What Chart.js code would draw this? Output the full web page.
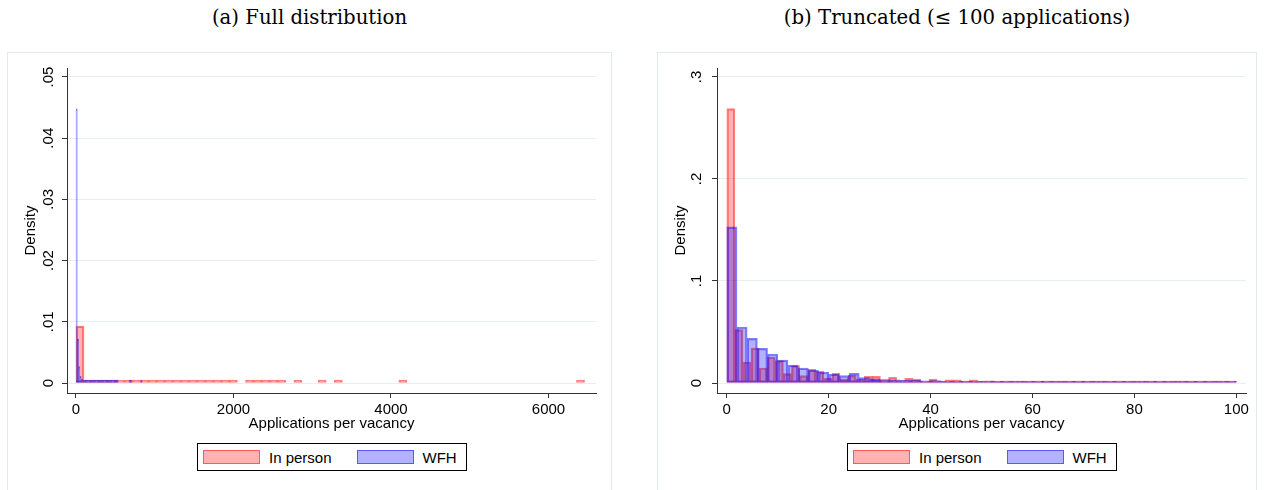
<!DOCTYPE html>
<html>
<head>
<meta charset="utf-8">
<script src="https://cdn.jsdelivr.net/npm/chart.js@4.4.1/dist/chart.umd.min.js"></script>
<style>
  body { margin: 0; width: 1264px; height: 490px; overflow: hidden; background: #fff; position: relative;
         font-family: "Liberation Sans", Arial, sans-serif; color: #000; }
  .titulo { position: absolute; top: 7px; height: 22px; line-height: 22px; text-align: center;
            font-family: "DejaVu Serif", serif; font-size: 19.7px; }
  .panel { position: absolute; top: 52px; height: 460px; border: 1px solid #e3eaec; box-sizing: border-box; }
  canvas { position: absolute; top: 40px; }
  .leyenda { position: absolute; top: 443px; height: 28px; box-sizing: border-box; border: 1px solid #000;
             display: inline-flex; align-items: center; padding: 0 9px 0 5px; font-size: 15px; background: #fff; }
  .muestra { display: inline-block; width: 57px; height: 14px; box-sizing: border-box; border: 1.5px solid; margin-right: 9px; }
  .roja { background: rgba(255, 0, 0, 0.3); border-color: rgba(255, 0, 0, 0.5); }
  .azul { background: rgba(0, 0, 255, 0.3); border-color: rgba(0, 0, 255, 0.5); }
</style>
</head>
<body>
<div class="panel" style="left:7px; width:605px;"></div>
<div class="panel" style="left:657px; width:600px;"></div>
<div class="titulo" style="left:7px; width:605px;">(a) Full distribution</div>
<div class="titulo" style="left:657px; width:600px;">(b) Truncated (≤ 100 applications)</div>

<canvas id="graficoCompleto" width="632" height="450" style="left:0px;"></canvas>
<canvas id="graficoTruncado" width="632" height="450" style="left:632px;"></canvas>

<div class="leyenda" style="left:197px;">
  <span class="muestra roja"></span><span style="margin-right:25px;">In person</span>
  <span class="muestra azul"></span><span>WFH</span>
</div>
<div class="leyenda" style="left:847px;">
  <span class="muestra roja"></span><span style="margin-right:25px;">In person</span>
  <span class="muestra azul"></span><span>WFH</span>
</div>

<script>
// Ancho de los bins de cada histograma (todos empiezan en 0)
const anchoRojoCompleto = 102.5;     // 63 bins
const anchoAzulCompleto = 16.8;      // 50 bins
const anchoRojoTruncado = 100 / 63;  // 63 bins
const anchoAzulTruncado = 2;         // 50 bins

// Densidades, distribución completa (null = bin vacío)
const densRojoCompleto = [
  0.0093, 0.00022, 0.00008, 0.00005, 0.00003, 0.00003, 0.00002, 0.00002, 0.00002, 0.00001,
  0.00001, 0.00001, 0.00001, 0.00001, 0.00001, 0.00001, 0.00001, 0.00001, 0.00001, 0.00001,
  null, 0.000005, 0.000005, 0.000005, 0.000005, 0.000005, null, 0.000005, null, null,
  0.000005, null, 0.000005, null, null, null, null, null, null, null,
  0.000005, null, null, null, null, null, null, null, null, null,
  null, null, null, null, null, null, null, null, null, null,
  null, null, 0.000005
];
const densAzulCompleto = [
  0.0448, 0.0072, 0.0027, 0.0011, 0.0006, 0.0004, 0.0003, 0.0002, 0.00015, 0.0001,
  0.00008, 0.00007, 0.00006, 0.00005, 0.00005, 0.00004, 0.00004, 0.00003, 0.00003, 0.00003,
  0.00002, 0.00002, 0.00002, 0.00002, 0.00002, 0.00001, 0.00001, 0.00001, 0.00001, 0.00001,
  0.00001, 0.00001, null, null, null, null, null, null, null, null,
  0.00001, 0.00001, null, null, null, null, null, null, null, 0.00001
];

// Densidades, truncado a 100 postulaciones
const densRojoTruncado = [
  0.269, 0.0523, 0.0206, 0.0343, 0.0147, 0.0255, 0.0219, 0.0092, 0.017, 0.0072,
  0.0134, 0.0114, 0.0046, 0.0095, 0.0039, 0.0075, 0.0036, 0.0065, 0.0065, 0.003,
  0.0055, 0.0023, 0.0046, 0.0039, 0.0018, 0.0039, 0.0016, 0.003, 0.003, 0.0013,
  0.003, 0.0014, 0.0022, 0.001, 0.002, 0.002, 0.0009, 0.002, 0.0009, 0.0018,
  0.0016, 0.0008, 0.0014, 0.0007, 0.0013, 0.0007, 0.0012, 0.0012, 0.0005, 0.0011,
  0.0009, 0.001, 0.0005, 0.0009, 0.0005, 0.0009, 0.0008, 0.0004, 0.0008, 0.0004,
  0.0008, 0.0004, 0.0007
];
const densAzulTruncado = [
  0.153, 0.0549, 0.0438, 0.034, 0.0284, 0.0225, 0.0176, 0.0146, 0.0125, 0.0105,
  0.0086, 0.0073, 0.0095, 0.0052, 0.004, 0.0034, 0.003, 0.0027, 0.0025, 0.0022,
  0.0024, 0.0018, 0.0016, 0.0015, 0.0014, 0.0019, 0.0012, 0.0011, 0.001, 0.0009,
  0.0011, 0.0008, 0.0007, 0.0007, 0.0006, 0.0008, 0.0006, 0.0005, 0.0005, 0.0005,
  0.0007, 0.0005, 0.0004, 0.0004, 0.0004, 0.0005, 0.0004, 0.0004, 0.0003, 0.0004
];

const ticksXCompleto = [0, 2000, 4000, 6000];
const ticksYCompleto = [0, 0.01, 0.02, 0.03, 0.04, 0.05];
const ticksXTruncado = [0, 20, 40, 60, 80, 100];
const ticksYTruncado = [0, 0.1, 0.2, 0.3];

Chart.defaults.font.family = '"Liberation Sans", Arial, sans-serif';
Chart.defaults.font.size = 15;
Chart.defaults.color = '#000';

// cada bin se dibuja centrado en su punto medio
function aPuntos(densidades, ancho) {
    return densidades.map((d, i) => ({ x: (i + 0.5) * ancho, y: d }));
}

// ".05" en vez de "0.05", como en Stata
function etiquetaY(valor) {
    return valor === 0 ? '0' : String(+valor.toFixed(3)).replace(/^0/, '');
}

function crearHistograma(idCanvas, cfg) {
    const ctx = document.getElementById(idCanvas).getContext('2d');
    return new Chart(ctx, {
        type: 'bar',
        data: {
            datasets: [
                {
                    label: 'WFH',
                    data: aPuntos(cfg.azul, cfg.anchoAzul),
                    xAxisID: 'x2',
                    backgroundColor: 'rgba(0, 0, 255, 0.3)',
                    borderColor: 'rgba(0, 0, 255, 0.5)'
                },
                {
                    label: 'In person',
                    data: aPuntos(cfg.rojo, cfg.anchoRojo),
                    xAxisID: 'x',
                    backgroundColor: 'rgba(255, 0, 0, 0.3)',
                    borderColor: 'rgba(255, 0, 0, 0.5)'
                }
            ]
        },
        options: {
            responsive: false,
            animation: false,
            datasets: {
                bar: {
                    grouped: false,
                    barPercentage: 1,
                    categoryPercentage: 1,
                    borderWidth: 1.5,
                    borderSkipped: false,
                    minBarLength: cfg.minBarra
                }
            },
            layout: { padding: { left: cfg.padIzq, right: cfg.padDer, top: 28, bottom: 0 } },
            plugins: { legend: { display: false }, tooltip: { enabled: false } },
            scales: {
                x: {
                    type: 'linear',
                    offset: false,
                    min: cfg.xMin,
                    max: cfg.xMax,
                    afterBuildTicks: (eje) => { eje.ticks = cfg.ticksX.map(v => ({ value: v })); },
                    afterFit: (eje) => { eje.height = 97; },
                    ticks: { padding: 3, maxRotation: 0, autoSkip: false, callback: (v) => String(v) },
                    grid: { offset: false, drawOnChartArea: false, drawTicks: true, tickLength: 5, tickColor: '#333' },
                    border: { color: '#333', width: 1 },
                    title: { display: true, text: 'Applications per vacancy', padding: { top: 0, bottom: 57 } }
                },
                x2: {
                    type: 'linear',
                    display: false,
                    offset: false,
                    grid: { offset: false },
                    min: cfg.xMin,
                    max: cfg.xMax
                },
                y: {
                    min: cfg.yMin,
                    max: cfg.yMax,
                    afterBuildTicks: (eje) => { eje.ticks = cfg.ticksY.map(v => ({ value: v })); },
                    afterFit: (eje) => { eje.width = 50; },
                    ticks: { minRotation: 90, maxRotation: 90, crossAlign: 'center', padding: cfg.padTicksY, callback: etiquetaY },
                    grid: { color: '#e8eff0', lineWidth: 1, drawTicks: true, tickLength: 5, tickColor: '#333' },
                    border: { color: '#333', width: 1 },
                    title: { display: true, text: 'Density', padding: { top: 5, bottom: 0 } }
                }
            }
        }
    });
}

crearHistograma('graficoCompleto', {
    rojo: densRojoCompleto, anchoRojo: anchoRojoCompleto,
    azul: densAzulCompleto, anchoAzul: anchoAzulCompleto,
    ticksX: ticksXCompleto, ticksY: ticksYCompleto,
    xMin: -114, xMax: 6603, yMin: -0.00163, yMax: 0.05147,
    padIzq: 17, padDer: 36, padTicksY: 3, minBarra: 3
});

crearHistograma('graficoTruncado', {
    rojo: densRojoTruncado, anchoRojo: anchoRojoTruncado,
    azul: densAzulTruncado, anchoAzul: anchoAzulTruncado,
    ticksX: ticksXTruncado, ticksY: ticksYTruncado,
    xMin: -1.92, xMax: 101.9, yMin: -0.0098, yMax: 0.3088,
    padIzq: 35, padDer: 18, padTicksY: 8.75, minBarra: 2
});
</script>
</body>
</html>
